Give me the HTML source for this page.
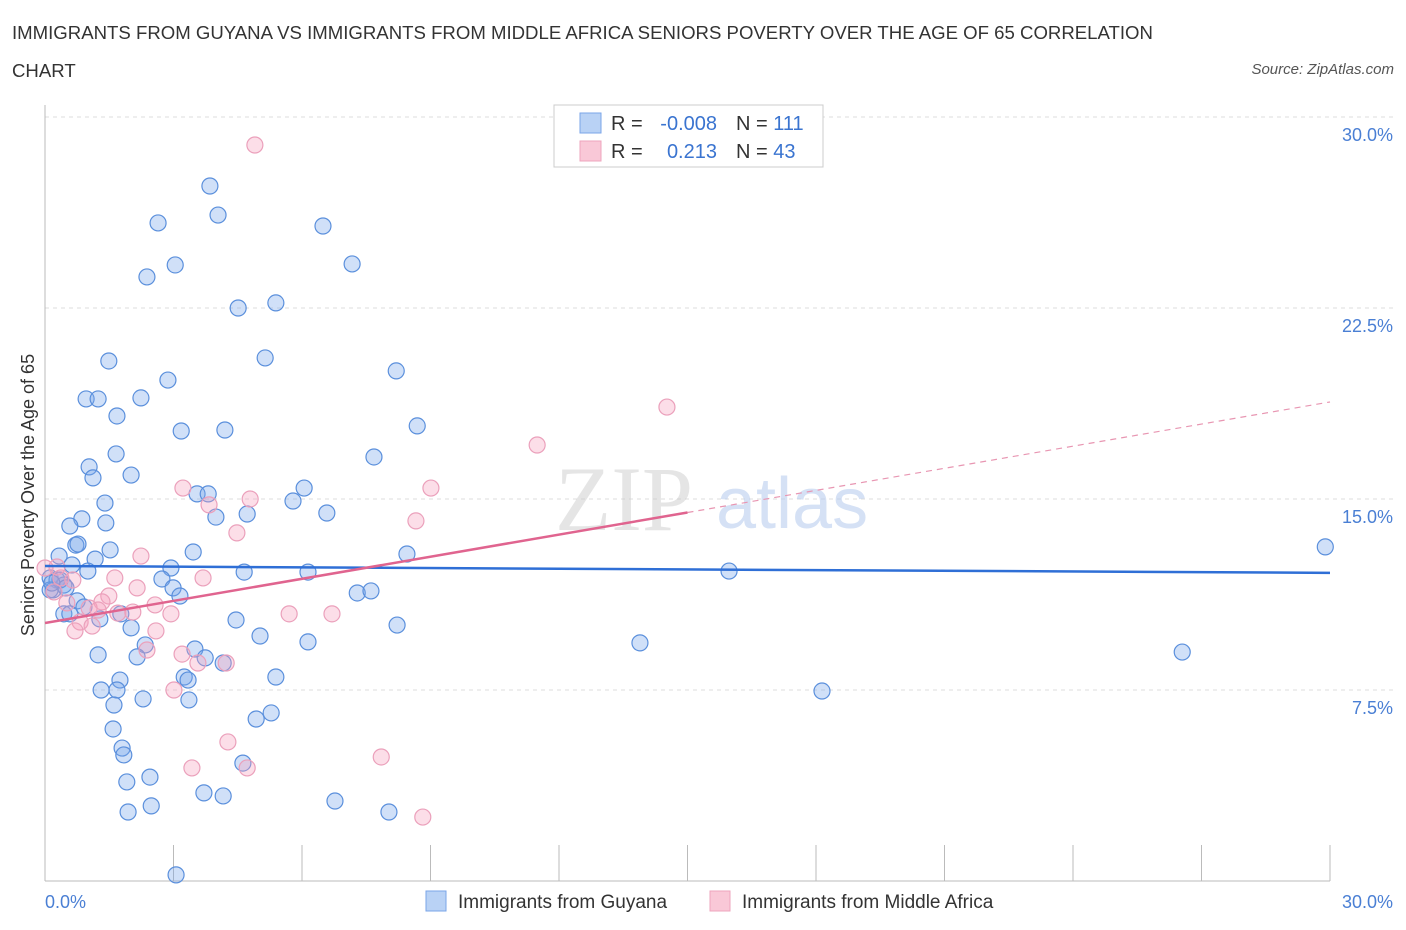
<!DOCTYPE html>
<html><head><meta charset="utf-8">
<style>
body{margin:0;background:#fff;font-family:"Liberation Sans",sans-serif;}
#wrap{position:relative;width:1406px;height:930px;overflow:hidden;}
.t{position:absolute;white-space:nowrap;}
</style></head>
<body>
<div id="wrap">
<div class="t" style="left:12px;top:14px;font-size:18.6px;color:#333;line-height:38px;">IMMIGRANTS FROM GUYANA VS IMMIGRANTS FROM MIDDLE AFRICA SENIORS POVERTY OVER THE AGE OF 65 CORRELATION<br>CHART</div>
<div class="t" style="right:12px;top:61px;font-size:15px;color:#555;font-style:italic;">Source: ZipAtlas.com</div>
<svg id="svg" width="1406" height="930" style="position:absolute;left:0;top:0"></svg>
</div>
<script>
const xVals1=[3.85,4.04,2.64,6.49,2.38,3.04,7.17,4.51,5.39,5.14,1.49,8.20,2.87,0.96,1.24,2.24,1.68,3.18,4.20,8.69,1.66,7.68,1.03,1.12,2.01,6.05,3.55,3.81,5.79,1.40,3.99,4.72,6.58,0.86,0.58,1.42,0.72,0.77,1.52,3.46,0.33,1.17,0.63,1.00,2.94,4.65,6.14,8.45,15.97,29.89,2.73,0.12,0.28,0.44,0.19,2.99,3.15,7.29,7.61,0.75,0.91,0.44,0.58,1.28,1.77,4.46,2.01,5.02,8.22,6.14,13.89,2.34,1.24,2.15,3.50,3.74,4.16,26.55,1.31,1.75,1.68,3.25,3.34,5.39,18.14,1.61,2.29,3.36,5.28,4.93,1.59,1.80,1.84,4.62,1.91,2.45,3.71,4.16,6.77,1.94,2.48,8.03,3.06,0.12,0.35,0.49,0.16];
const yVals1=[27.29,26.15,25.84,25.72,23.72,24.19,24.23,22.50,22.70,20.54,20.42,20.03,19.67,18.93,18.93,18.97,18.26,17.67,17.71,17.87,16.77,16.65,16.26,15.83,15.94,15.43,15.20,15.20,14.92,14.84,14.29,14.41,14.45,14.22,13.94,14.06,13.19,13.23,13.00,12.92,12.76,12.64,12.41,12.17,12.29,12.13,12.13,12.84,12.17,13.12,11.86,11.90,11.82,11.62,11.43,11.51,11.19,11.31,11.39,11.00,10.76,10.49,10.49,10.29,10.49,10.25,9.94,9.62,10.05,9.39,9.35,9.27,8.88,8.80,9.11,8.76,8.56,8.99,7.50,7.89,7.50,8.01,7.89,8.01,7.46,6.91,7.15,7.11,6.60,6.36,5.97,5.22,4.95,4.63,3.89,4.08,3.46,3.34,3.14,2.71,2.95,2.71,0.24,11.43,11.82,11.51,11.70];
const xVals2=[4.90,14.52,11.49,3.22,4.79,3.83,9.01,8.66,4.48,2.24,0.28,0.65,0.37,0,1.63,3.69,2.15,1.49,1.33,0.21,0.51,1.03,1.24,1.70,2.05,2.94,5.70,6.70,2.57,0.82,1.10,0.70,2.59,2.38,3.20,3.57,4.23,3.01,4.27,3.43,4.72,7.85,8.82];
const yVals2=[28.90,18.61,17.12,15.43,15.00,14.77,15.43,14.14,13.67,12.76,12.33,11.82,11.90,12.29,11.90,11.90,11.51,11.19,10.96,11.35,10.92,10.72,10.64,10.52,10.56,10.49,10.49,10.49,10.84,10.17,10.01,9.82,9.82,9.07,8.91,8.56,8.56,7.50,5.46,4.44,4.44,4.87,2.51];
const trend1=[12.37,12.10];
const trend2=[10.13,18.81];
const yTicks=[7.5,15,22.5,30];
const yTickLabels=["7.5%","15.0%","22.5%","30.0%"];
const xTicks=[0,3,6,9,12,15,18,21,24,27,30];

const NS="http://www.w3.org/2000/svg";
const svg=document.getElementById('svg');
const X=v=>45+v/30*1285;
const Y=v=>881-v/30*764;
function el(tag,attrs,parent){const e=document.createElementNS(NS,tag);for(const k in attrs)e.setAttribute(k,attrs[k]);(parent||svg).appendChild(e);return e;}

yTicks.forEach((t,i)=>{
  const g=el('line',{x1:45,x2:1395,y1:Y(t),y2:Y(t),stroke:'#ddd','stroke-dasharray':'4,4'});
  
  
  const tx=el('text',{x:1393,y:Y(t)+24,'text-anchor':'end','font-size':18,fill:'#4a7fd4','font-family':'Liberation Sans'});
  tx.textContent=yTickLabels[i];
  
  
});
const ax=el('line',{x1:45,x2:45,y1:105,y2:881,stroke:'#bbb'});


const bx=el('line',{x1:45,x2:1330,y1:881,y2:881,stroke:'#bbb'});


xTicks.forEach(t=>{
  const l=el('line',{x1:X(t),x2:X(t),y1:845,y2:881,stroke:'#bbb'});
  
  
});
[[0,'0.0%','start',45],[30,'30.0%','end',1393]].forEach(a=>{
  const tx=el('text',{x:a[3],y:908,'text-anchor':a[2],'font-size':18,fill:'#4a7fd4','font-family':'Liberation Sans'});
  tx.textContent=a[1];
  
  
});
const yt=el('text',{x:0,y:0,transform:'translate(34,495) rotate(-90)','text-anchor':'middle','font-size':18,fill:'#333','font-family':'Liberation Sans'});
yt.textContent='Seniors Poverty Over the Age of 65';



const wm=el('text',{x:555,y:530,'font-size':92,fill:'#ccc','fill-opacity':0.5,'font-family':'Liberation Serif'});
wm.textContent='ZIP';


const wm2=el('text',{x:716,y:528,'font-size':72,fill:'#b9cdee','fill-opacity':0.6,'font-family':'Liberation Sans'});
wm2.textContent='atlas';



xVals1.forEach((x,i)=>{
  const c=el('circle',{cx:X(x),cy:Y(yVals1[i]),r:8,fill:'rgba(120,165,235,0.35)',stroke:'#5a8fdc','stroke-width':1.2});
  
  
});
xVals2.forEach((x,i)=>{
  const c=el('circle',{cx:X(x),cy:Y(yVals2[i]),r:8,fill:'rgba(245,160,190,0.35)',stroke:'#eba0bb','stroke-width':1.2});
  
  
});
const t1=el('line',{x1:X(0),y1:Y(trend1[0]),x2:X(30),y2:Y(trend1[1]),stroke:'#2f6fd6','stroke-width':2.5});


const pAt=x=>trend2[0]+(trend2[1]-trend2[0])*x/30;
const t2=el('line',{x1:X(0),y1:Y(pAt(0)),x2:X(15),y2:Y(pAt(15)),stroke:'#e0648f','stroke-width':2.5});


const t3=el('line',{x1:X(15),y1:Y(pAt(15)),x2:X(30),y2:Y(pAt(30)),stroke:'#e896b2','stroke-width':1.2,'stroke-dasharray':'6,5'});



const lg=el('rect',{x:554,y:105,width:269,height:62,fill:'#fff',stroke:'#ccc'});


function stat(y,fill,stroke,r,n,name){
  const s=el('rect',{x:580,y:y-10,width:21,height:20,fill:fill,stroke:stroke});
  
  
  const t=el('text',{x:611,y:y+7,'font-size':20,fill:'#333','font-family':'Liberation Sans'});
  t.innerHTML='R = <tspan fill="#3a74d0" x="717" text-anchor="end">'+r+'</tspan><tspan x="736">N = </tspan><tspan fill="#3a74d0">'+n+'</tspan>';
  
  
}
stat(123,'#b9d2f5','#7aa5e8','-0.008','111','guyana');
stat(151,'#f9c8d7','#eea4bd','0.213','43','middle-africa');

function bl(x,fill,stroke,label,name){
  const s=el('rect',{x:x,y:891,width:20,height:20,fill:fill,stroke:stroke});
  
  
  const t=el('text',{x:x+32,y:908,'font-size':19,fill:'#333','font-family':'Liberation Sans'});
  t.textContent=label;
  
  
}
bl(426,'#b9d2f5','#7aa5e8','Immigrants from Guyana','guyana');
bl(710,'#f9c8d7','#eea4bd','Immigrants from Middle Africa','middle-africa');
</script>
</body></html>
